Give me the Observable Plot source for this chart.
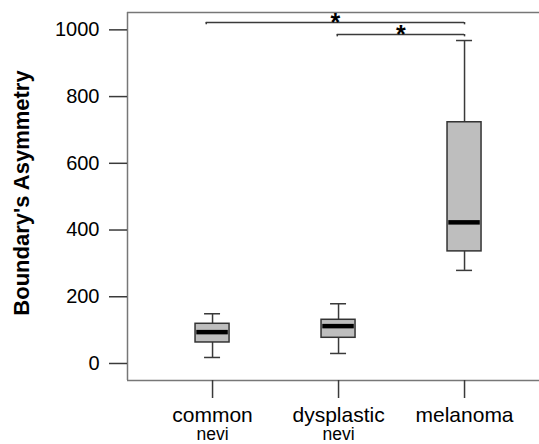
<!DOCTYPE html>
<html><head><meta charset="utf-8">
<script src="https://cdn.jsdelivr.net/npm/d3@7"></script>
<script src="https://cdn.jsdelivr.net/npm/@observablehq/plot@0.6"></script>
<style>body{margin:0;background:#fff;}</style>
</head><body><div id="chart"></div>
<script>
const categories = ["common", "dysplastic", "melanoma"];
const subLabels = ["nevi", "nevi", ""];
const whiskerLow = [18, 30, 279];
const q1 = [63, 77, 336];
const median = [94, 112, 423];
const q3 = [119, 131, 723];
const whiskerHigh = [149, 179, 968];
const yTicks = [0, 200, 400, 600, 800, 1000];
const sigFrom = [0.95, 1.99];
const sigTo = [3.0, 3.0];
const sigY = [1022, 986];
const sigLabel = ["*", "*"];
const yTitle = "Boundary's Asymmetry";

const xDomain = [0.325, 3.595];
const yDomain = [-51, 1052];
const half = 0.135, cap = 0.0635, tickDrop = 7;

const boxes = categories.map((c, i) => ({c, x: i + 1, lo: whiskerLow[i], q1: q1[i], med: median[i], q3: q3[i], hi: whiskerHigh[i], sub: subLabels[i]}));
const sig = sigFrom.map((f, i) => ({x1: f, x2: sigTo[i], y: sigY[i], label: sigLabel[i]}));

const lineCol = "#3a3a3a";
const chart = Plot.plot({
  width: 539, height: 444,
  marginLeft: 127, marginRight: 0, marginTop: 12, marginBottom: 64,
  style: {fontFamily: "'Liberation Sans', Arial, sans-serif", fontSize: "20px", background: "#fff", color: "#000"},
  x: {domain: xDomain, axis: null},
  y: {domain: yDomain, axis: null},
  marks: [
    // frame (open on the right, cropped)
    Plot.ruleY([yDomain[0], yDomain[1]], {stroke: "#777", strokeWidth: 1.5}),
    Plot.ruleX([xDomain[0]], {stroke: "#777", strokeWidth: 1.5}),
    // axes
    Plot.axisY(yTicks, {tickSize: 18, tickPadding: 10, fontSize: 20, stroke: lineCol, strokeWidth: 1.5, fill: "#000", tickFormat: d => String(d), label: null}),
    Plot.axisX(boxes.map(d => d.x), {tickSize: 18, tickPadding: 9, fontSize: 21, stroke: lineCol, strokeWidth: 1.5, fill: "#000", tickFormat: d => categories[d - 1], label: null}),
    Plot.text(boxes.filter(d => d.sub), {x: "x", text: "sub", frameAnchor: "bottom", lineAnchor: "middle", dy: 53.5, fontSize: 17.5, fill: "#000"}),
    Plot.text([yTitle], {text: d => d, frameAnchor: "left", textAnchor: "middle", lineAnchor: "middle", dx: -106, dy: -3.5, rotate: -90, fontSize: 22, fontWeight: "bold", fill: "#000"}),
    // whiskers
    Plot.ruleX(boxes, {x: "x", y1: "q3", y2: "hi", stroke: lineCol, strokeWidth: 1.5}),
    Plot.ruleX(boxes, {x: "x", y1: "lo", y2: "q1", stroke: lineCol, strokeWidth: 1.5}),
    Plot.ruleY(boxes, {y: "hi", x1: d => d.x - cap, x2: d => d.x + cap, stroke: lineCol, strokeWidth: 1.5}),
    Plot.ruleY(boxes, {y: "lo", x1: d => d.x - cap, x2: d => d.x + cap, stroke: lineCol, strokeWidth: 1.5}),
    // boxes
    Plot.rect(boxes, {x1: d => d.x - half, x2: d => d.x + half, y1: "q1", y2: "q3", fill: "#bebebe", stroke: "#333", strokeWidth: 1.5}),
    Plot.ruleY(boxes, {y: "med", x1: d => d.x - half + 0.01, x2: d => d.x + half - 0.01, stroke: "#000", strokeWidth: 4.5}),
    // significance brackets
    Plot.ruleY(sig, {y: "y", x1: "x1", x2: "x2", stroke: lineCol, strokeWidth: 1.5}),
    Plot.ruleX(sig, {x: "x1", y1: "y", y2: d => d.y - tickDrop, stroke: lineCol, strokeWidth: 1.5}),
    Plot.ruleX(sig, {x: "x2", y1: "y", y2: d => d.y - tickDrop, stroke: lineCol, strokeWidth: 1.5}),
    Plot.text(sig, {x: d => (d.x1 + d.x2) / 2, y: "y", text: "label", fontSize: 25, fontWeight: "bold", fill: "#000"})
  ]
});
document.getElementById("chart").appendChild(chart);
</script>
</body></html>
